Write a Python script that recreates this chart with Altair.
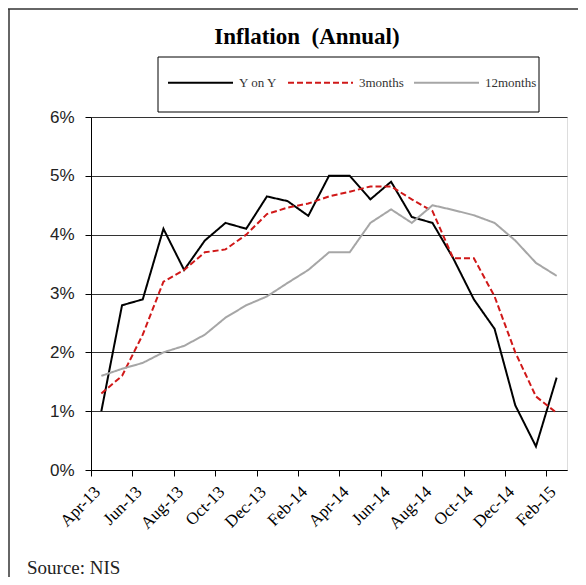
import json
import altair as alt
import pandas as pd

months = ["Apr-13", "May-13", "Jun-13", "Jul-13", "Aug-13", "Sep-13", "Oct-13", "Nov-13",
          "Dec-13", "Jan-14", "Feb-14", "Mar-14", "Apr-14", "May-14", "Jun-14", "Jul-14",
          "Aug-14", "Sep-14", "Oct-14", "Nov-14", "Dec-14", "Jan-15", "Feb-15"]
yoy = [1.0, 2.8, 2.9, 4.1, 3.4, 3.9, 4.2, 4.1, 4.65, 4.57, 4.32, 5.0,
       5.0, 4.6, 4.9, 4.3, 4.2, 3.6, 2.9, 2.4, 1.1, 0.4, 1.57]
three_m = [1.3, 1.6, 2.3, 3.2, 3.4, 3.7, 3.75, 4.0, 4.35, 4.46, 4.53, 4.65,
           4.73, 4.82, 4.82, 4.6, 4.4, 3.6, 3.6, 2.95, 2.0, 1.25, 0.97]
twelve_m = [1.6, 1.72, 1.82, 2.0, 2.11, 2.3, 2.59, 2.8, 2.95, 3.18, 3.4, 3.7,
            3.7, 4.2, 4.43, 4.2, 4.5, 4.42, 4.33, 4.2, 3.9, 3.52, 3.3]
series_names = ["Y on Y", "3months", "12months"]
series_colors = ["#000000", "#D01818", "#A6A6A6"]
series_dash = [[1, 0], [6, 3], [1, 0]]
series_width = [2, 2, 4]
y_ticks = [0, 1, 2, 3, 4, 5, 6]
title_text = "Inflation\u00a0 (Annual)"
source_note = "Source: NIS"

rows = []
for name, vals in zip(series_names, [yoy, three_m, twelve_m]):
    for i, v in enumerate(vals):
        rows.append({"idx": i, "month": months[i], "series": name, "value": v})
df = pd.DataFrame(rows)

n = len(months)
tick_vals = [-0.5 + 2 * k for k in range((n + 1) // 2)]
label_vals = [2 * k for k in range((n + 1) // 2)]
x_values = sorted(tick_vals + label_vals)
label_expr = "datum.value % 2 == 0 ? " + json.dumps(months) + "[datum.value] : ''"

x_enc = alt.X(
    "idx:Q",
    scale=alt.Scale(domain=[-0.5, n - 0.5], nice=False, zero=False),
    axis=alt.Axis(
        values=x_values, labelExpr=label_expr, title=None, grid=False,
        labelAngle=-45, labelAlign="right", labelBaseline="middle",
        labelFont="Liberation Serif", labelFontSize=17, labelColor="#000",
        labelOverlap=False, labelBound=False, labelFlush=False,
        tickSize=6, tickColor="#000", domainColor="#000", labelPadding=13,
        labelOffset=-4,
        tickOpacity={"condition": {"test": "datum.value % 2 == 0", "value": 0}, "value": 1},
    ),
)
y_enc = alt.Y(
    "value:Q",
    scale=alt.Scale(domain=[0, 6], nice=False),
    axis=alt.Axis(
        values=y_ticks, labelExpr="datum.value + '%'", title=None,
        grid=True, gridColor="#333", gridWidth=1,
        labelFont="Liberation Sans", labelFontSize=17, labelColor="#222",
        tickSize=6, tickColor="#000", domainColor="#000", labelPadding=11,
    ),
)

legend_df = pd.DataFrame({"k": [0]})
legend_box = alt.Chart(legend_df).mark_rect(fill="#FFFFFF", stroke="#000", strokeWidth=1).encode(
    x=alt.value(67), x2=alt.value(448), y=alt.value(-60), y2=alt.value(-5))

lines = alt.Chart(df).mark_line().encode(
    x=x_enc,
    y=y_enc,
    color=alt.Color("series:N", scale=alt.Scale(domain=series_names, range=series_colors),
                    legend=alt.Legend(
                        title=None, orient="none", legendX=70, legendY=-74,
                        direction="horizontal", symbolType="stroke", symbolSize=4225,
                        labelFont="Liberation Serif", labelFontSize=13, labelColor="#333",
                        labelOffset=5, columnPadding=6, padding=6,
                    )),
    strokeDash=alt.StrokeDash("series:N", scale=alt.Scale(domain=series_names, range=series_dash)),
    strokeWidth=alt.StrokeWidth("series:N", scale=alt.Scale(domain=series_names, range=series_width)),
    order=alt.Order("idx:Q"),
)

note = alt.Chart(pd.DataFrame({"t": [source_note]})).mark_text(
    align="left", baseline="alphabetic", font="Liberation Serif", fontSize=19, color="#222"
).encode(text="t:N", x=alt.value(-64), y=alt.value(457))

frame_df = pd.DataFrame({"k": [0]})
left_line = alt.Chart(frame_df).mark_rule(color="#333", strokeWidth=1.5).encode(
    x=alt.value(-82), y=alt.value(-108), y2=alt.value(460))
top_line = alt.Chart(frame_df).mark_rule(color="#333", strokeWidth=1.5).encode(
    x=alt.value(-83), x2=alt.value(487), y=alt.value(-108))

chart = alt.layer(legend_box, lines, note, left_line, top_line).properties(
    width=476, height=353,
    title=alt.TitleParams(title_text, font="Liberation Serif", fontSize=23, fontWeight="bold",
                          color="#000", anchor="middle", dx=-22, offset=0, dy=41),
    autosize=alt.AutoSizeParams(type="none"),
    padding={"left": 83, "top": 109, "right": 11, "bottom": 107},
).configure_view(fill="#FFFFCC", stroke="#808080").configure(background="#FFFFFF")

chart.save("out.html", embed_options={"renderer": "svg", "actions": False})
